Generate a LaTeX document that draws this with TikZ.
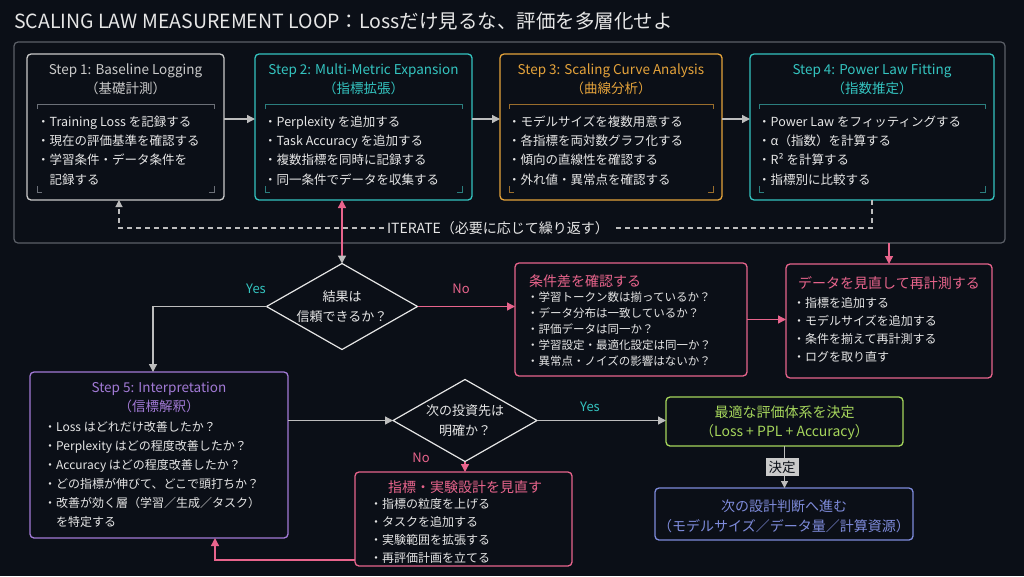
\documentclass[tikz,border=0pt]{standalone}
\usepackage{fontspec}
\setmainfont{Noto Sans CJK JP}
\usetikzlibrary{arrows.meta,shapes.geometric,calc}
\definecolor{bg}{HTML}{0B0F17}
\definecolor{framec}{HTML}{5C6068}
\definecolor{grayc}{HTML}{CACACA}
\definecolor{arrowc}{HTML}{BDBDBD}
\definecolor{textc}{HTML}{E6E6E6}
\definecolor{tealc}{HTML}{34C4C0}
\definecolor{orangec}{HTML}{E5A33B}
\definecolor{pinkc}{HTML}{E8648C}
\definecolor{purplec}{HTML}{A27AD6}
\definecolor{greenc}{HTML}{A6D65C}
\definecolor{bluec}{HTML}{7E8BDB}
\definecolor{dimgray}{HTML}{6C7078}
\definecolor{dimteal}{HTML}{2B7E7E}
\definecolor{dimorange}{HTML}{9A6D2C}
\newcommand{\brk}[5]{%
  \draw[#5, line width=0.8pt] (#1,#3+5) -- (#1,#3) -- (#2,#3) -- (#2,#3+5);
  \draw[#5, line width=0.8pt] (#1,#4-6) -- (#1,#4) -- (#1+5,#4);
  \draw[#5, line width=0.8pt] (#2,#4-6) -- (#2,#4) -- (#2-5,#4);}
\begin{document}
\begin{tikzpicture}[x=1pt,y=-1pt,
  box/.style={draw, rounded corners=4pt, line width=1.3pt, inner sep=0pt, outer sep=0pt},
  dia/.style={draw=textc, diamond, line width=1.2pt, inner sep=0pt, outer sep=0pt},
  garrow/.style={color=arrowc, line width=1.3pt, -{Triangle[length=8pt,width=8pt]}},
  parrow/.style={color=pinkc, line width=1.3pt, -{Triangle[length=8pt,width=8pt]}},
  dline/.style={draw=arrowc, line width=1.1pt, dash pattern=on 5pt off 4pt},
  ttl/.style={inner sep=0pt, align=center, font=\fontsize{13.5}{19}\selectfont},
  bul/.style={inner sep=0pt, align=left, anchor=north west, text=textc},
  lbl/.style={inner sep=0pt, font=\fontsize{13}{15}\selectfont}]
\path[use as bounding box, fill=bg] (0,0) rectangle (1024,576);

% title
\node[anchor=west, inner sep=0pt, text=textc, font=\fontsize{19.5}{22}\selectfont] (title) at (14,21)
  {SCALING LAW MEASUREMENT LOOP：Lossだけ見るな、評価を多層化せよ};

% outer frame
\node[box, draw=framec, line width=1.2pt, minimum width=991, minimum height=201] (frame) at (509.5,142.5) {};

% step boxes
\node[box, draw=grayc, minimum width=197, minimum height=146] (s1) at (125.5,127) {};
\node[box, draw=tealc, minimum width=217, minimum height=146] (s2) at (363.5,127) {};
\node[box, draw=orangec, minimum width=222, minimum height=146] (s3) at (611,127) {};
\node[box, draw=tealc, minimum width=244, minimum height=146] (s4) at (872,127) {};

\brk{37}{214}{104}{192}{dimgray}
\brk{265}{462}{104}{192}{dimteal}
\brk{509}{713}{104}{192}{dimorange}
\brk{759}{985}{104}{192}{dimteal}

\node[ttl, text=grayc] (s1h) at (125.5,79.5) {Step 1: Baseline Logging\\（基礎計測）};
\node[ttl, text=tealc] (s2h) at (363.5,79.5) {Step 2: Multi-Metric Expansion\\（指標拡張）};
\node[ttl, text=orangec] (s3h) at (611,79.5) {Step 3: Scaling Curve Analysis\\（曲線分析）};
\node[ttl, text=tealc] (s4h) at (872,79.5) {Step 4: Power Law Fitting\\（指数推定）};

\node[bul, font=\fontsize{12.5}{19.3}\selectfont] (s1b) at (37,115.5)
  {・Training Loss を記録する\\・現在の評価基準を確認する\\・学習条件・データ条件を\\\phantom{・}記録する};
\node[bul, font=\fontsize{12.5}{19.3}\selectfont] (s2b) at (264,115.5)
  {・Perplexity を追加する\\・Task Accuracy を追加する\\・複数指標を同時に記録する\\・同一条件でデータを収集する};
\node[bul, font=\fontsize{12.5}{19.3}\selectfont] (s3b) at (508,115.5)
  {・モデルサイズを複数用意する\\・各指標を両対数グラフ化する\\・傾向の直線性を確認する\\・外れ値・異常点を確認する};
\node[bul, font=\fontsize{12.5}{19.3}\selectfont] (s4b) at (758,115.5)
  {・Power Law をフィッティングする\\・α（指数）を計算する\\・R² を計算する\\・指標別に比較する};

% iterate label
\node[inner sep=3pt, text=textc, font=\fontsize{14}{16}\selectfont] (iter) at (498,228) {ITERATE（必要に応じて繰り返す）};

% decision 1
\node[dia, minimum width=151, minimum height=86] (d1) at (342,306.5) {};
\node[inner sep=0pt, align=center, text=textc, font=\fontsize{13}{20}\selectfont] (d1t) at (342,307) {結果は\\信頼できるか？};
\node[lbl, text=tealc] (y1) at (256,289) {Yes};
\node[lbl, text=pinkc] (n1) at (461,289) {No};

% condition box
\node[box, draw=pinkc, minimum width=232, minimum height=113] (cond) at (631,319.5) {};
\node[anchor=west, inner sep=0pt, text=pinkc, font=\fontsize{14}{16}\selectfont] (condh) at (529,281) {条件差を確認する};
\node[bul, font=\fontsize{11.5}{16}\selectfont] (condb) at (527,292)
  {・学習トークン数は揃っているか？\\・データ分布は一致しているか？\\・評価データは同一か？\\・学習設定・最適化設定は同一か？\\・異常点・ノイズの影響はないか？};

% redo box
\node[box, draw=pinkc, minimum width=206, minimum height=114] (redo) at (889,321) {};
\node[anchor=west, inner sep=0pt, text=pinkc, font=\fontsize{14}{16}\selectfont] (redoh) at (798,283) {データを見直して再計測する};
\node[bul, font=\fontsize{12}{18}\selectfont] (redob) at (793,297)
  {・指標を追加する\\・モデルサイズを追加する\\・条件を揃えて再計測する\\・ログを取り直す};

% step 5
\node[box, draw=purplec, minimum width=258, minimum height=166] (s5) at (159,455) {};
\node[ttl, text=purplec] (s5h) at (159,397.5) {Step 5: Interpretation\\（信標解釈）};
\node[bul, font=\fontsize{12}{19}\selectfont] (s5b) at (44,421.5)
  {・Loss はどれだけ改善したか？\\・Perplexity はどの程度改善したか？\\・Accuracy はどの程度改善したか？\\・どの指標が伸びて、どこで頭打ちか？\\・改善が効く層（学習／生成／タスク）\\\phantom{・}を特定する};

% decision 2
\node[dia, minimum width=144, minimum height=82] (d2) at (465,420.5) {};
\node[inner sep=0pt, align=center, text=textc, font=\fontsize{13}{20}\selectfont] (d2t) at (465,421) {次の投資先は\\明確か？};
\node[lbl, text=tealc] (y2) at (590,407) {Yes};
\node[lbl, text=pinkc] (n2) at (421,458) {No};

% review box
\node[box, draw=pinkc, minimum width=217, minimum height=94] (rev) at (463.5,519) {};
\node[inner sep=0pt, text=pinkc, font=\fontsize{14}{16}\selectfont] (revh) at (465,487) {指標・実験設計を見直す};
\node[bul, font=\fontsize{12}{18}\selectfont] (revb) at (370,498.5)
  {・指標の粒度を上げる\\・タスクを追加する\\・実験範囲を拡張する\\・再評価計画を立てる};

% best box
\node[box, draw=greenc, minimum width=237, minimum height=49] (best) at (784.5,421.5) {};
\node[inner sep=0pt, align=center, text=greenc, font=\fontsize{14}{19}\selectfont] (bestt) at (784.5,422.5) {最適な評価体系を決定\\（Loss + PPL + Accuracy）};

% next box
\node[box, draw=bluec, minimum width=258, minimum height=52] (next) at (784,514) {};
\node[inner sep=0pt, align=center, text=bluec, font=\fontsize{14}{20}\selectfont] (nextt) at (784,516) {次の設計判断へ進む\\（モデルサイズ／データ量／計算資源）};

% ---- connectors ----
\draw[garrow] ([yshift=8pt]s1.east) -- ([yshift=8pt]s2.west);
\draw[garrow] ([yshift=8pt]s2.east) -- ([yshift=8pt]s3.west);
\draw[garrow] ([yshift=8pt]s3.east) -- ([yshift=8pt]s4.west);
\draw[dline] (s4.south) |- (iter.east);
\draw[dline, -{Triangle[length=7pt,width=7pt]}] (iter.west) -| ([xshift=-6.5pt]s1.south);
\draw[color=pinkc, line width=1.3pt, {Triangle[length=8pt,width=8pt,color=arrowc]}-{Triangle[length=8pt,width=8pt]}] (d1.north) -- (d1.north |- s2.south);
\draw[garrow] (d1.west) -| ([xshift=-6pt]s5.north);
\draw[parrow] (d1.east) -- (d1.east -| cond.west);
\draw[parrow] (cond.east) -- (cond.east -| redo.west);
\draw[parrow] (redo.north |- frame.south) -- (redo.north);
\draw[garrow] (d2.west -| s5.east) -- (d2.west);
\draw[garrow] (d2.east) -- (d2.east -| best.west);
\draw[parrow] (d2.south) -- (d2.south |- rev.north);
\draw[parrow] ([yshift=6pt]rev.south west) -| ([xshift=56pt]s5.south);
\draw[color=arrowc, line width=1.2pt, -{Triangle[length=7pt,width=7pt]}] (best.south) -- (best.south |- next.north);
\node[fill=grayc, text=bg, inner sep=3pt, font=\fontsize{13.5}{15}\selectfont] (deci) at (782,467) {決定};

\end{tikzpicture}
\end{document}
